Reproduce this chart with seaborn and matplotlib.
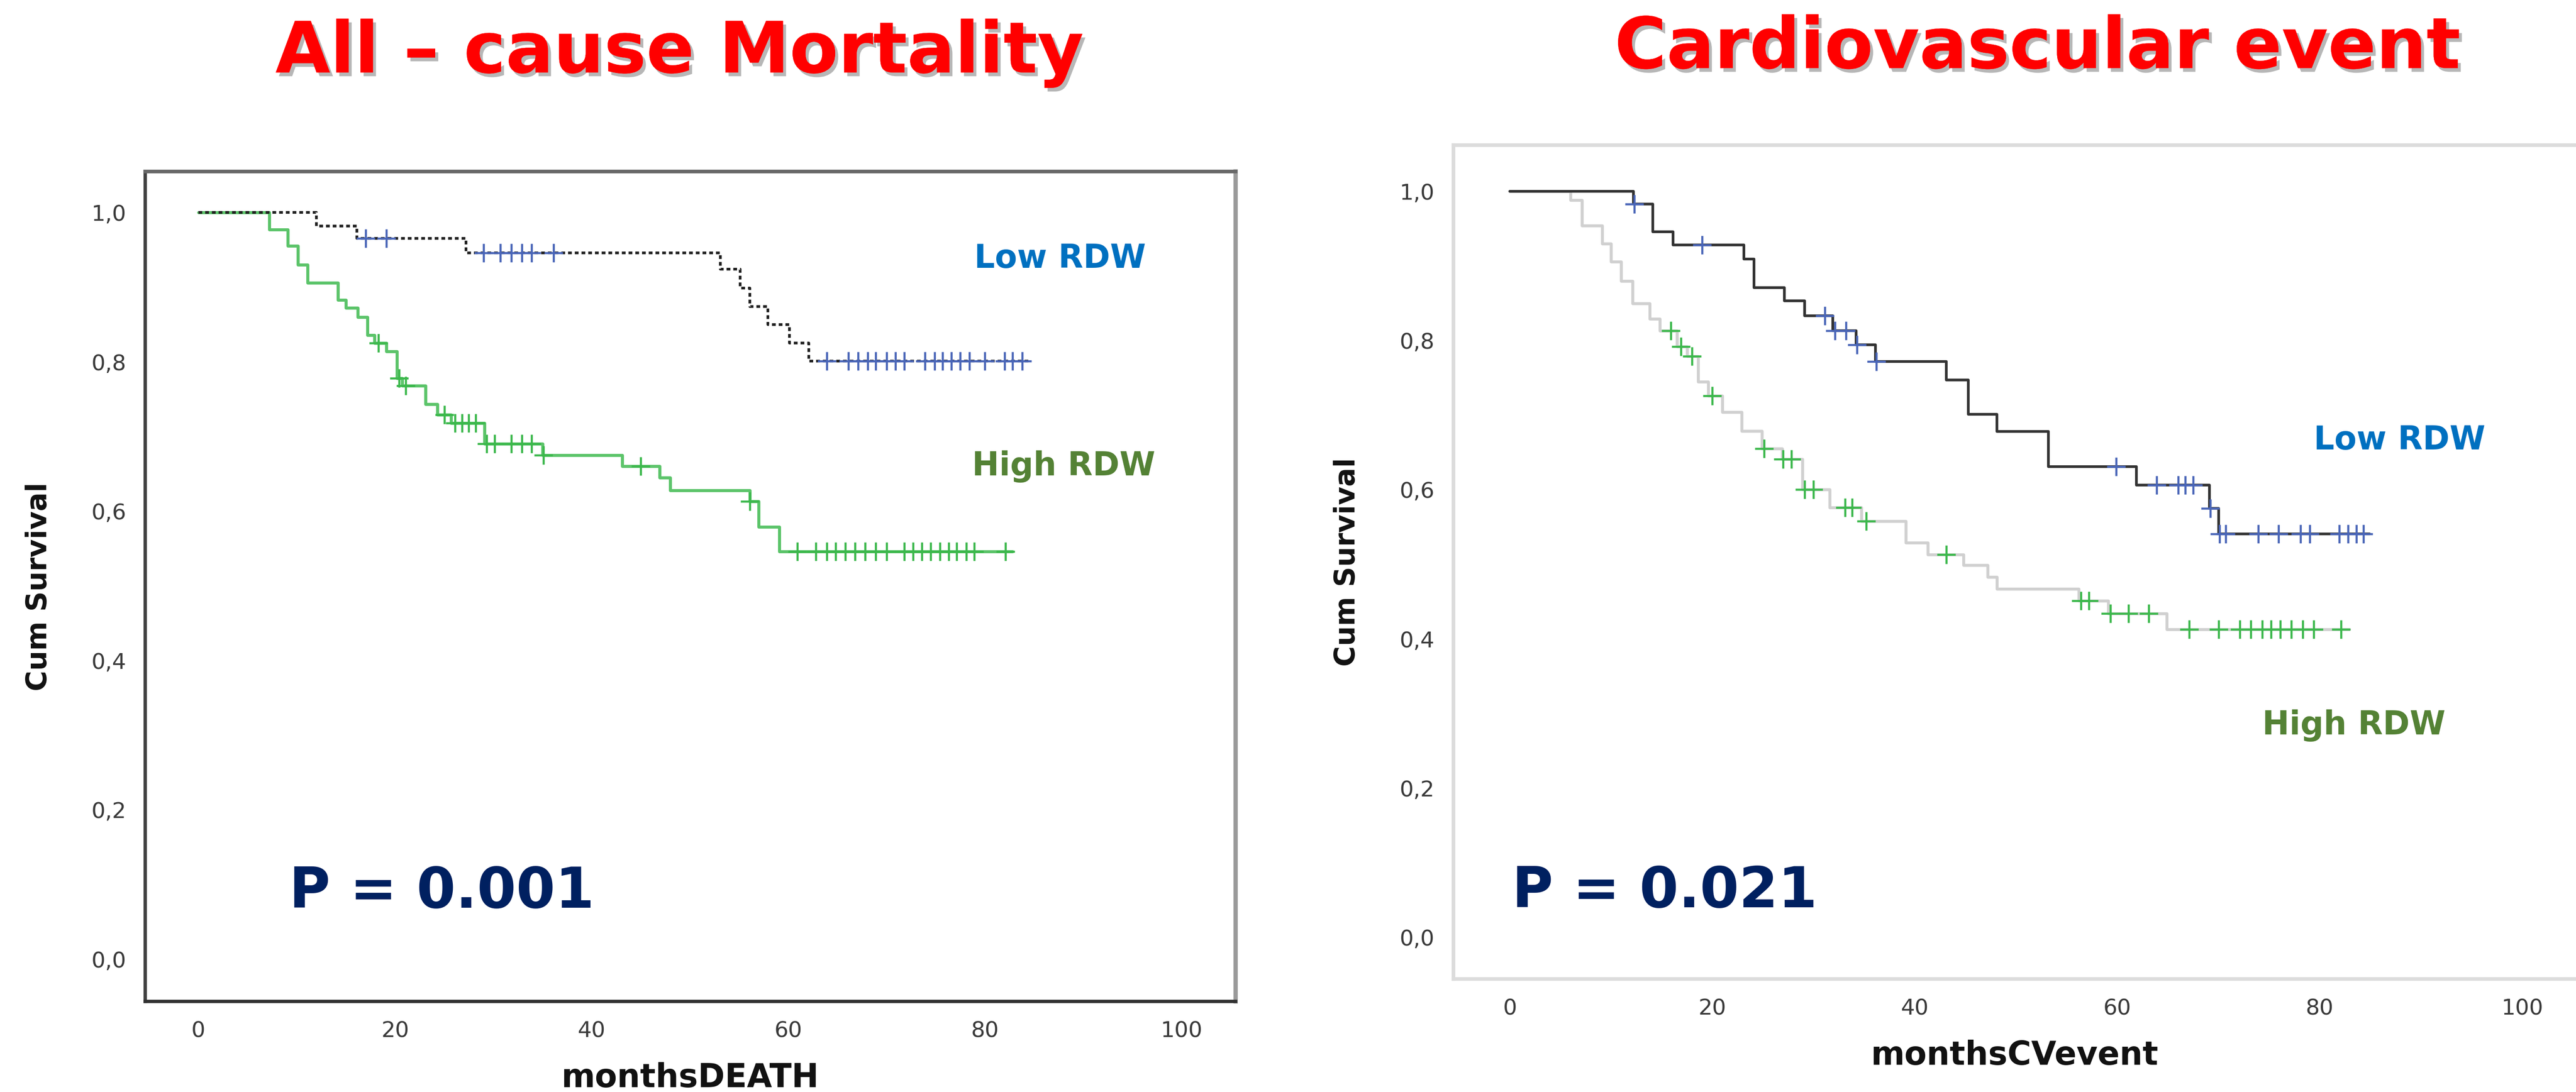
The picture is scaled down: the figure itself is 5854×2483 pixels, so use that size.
import numpy as np
import matplotlib
matplotlib.use("Agg")
import matplotlib.pyplot as plt
import matplotlib.patheffects as pe
import seaborn as sns

# ---------------- data ----------------
# All-cause mortality: Low RDW (event times / survival after event)
death_low_t = [0, 12.0, 16.1, 27.2, 53.1, 55.1, 56.1, 57.9, 60.1, 62.1]
death_low_s = [1.0, 0.982, 0.965, 0.946, 0.924, 0.899, 0.874, 0.850, 0.825, 0.801]
death_low_end = 84.6
death_low_cens = [17.0, 19.1, 29.0, 30.7, 31.8, 32.9, 33.9, 36.1,
                  63.9, 66.1, 67.1, 68.1, 68.9, 70.0, 70.9, 71.8, 73.9, 74.9,
                  75.7, 76.6, 77.5, 78.4, 80.0, 82.0, 82.8, 83.8]

# All-cause mortality: High RDW
death_high_t = [0, 7.2, 9.1, 10.1, 11.1, 14.2, 15.0, 16.2, 17.2, 17.9, 19.1, 20.2,
                20.7, 23.1, 24.3, 25.7, 29.1, 35.0, 43.1, 46.9, 48.0, 56.1, 57.0, 59.1]
death_high_s = [1.0, 0.977, 0.955, 0.930, 0.906, 0.883, 0.872, 0.860, 0.836, 0.825,
                0.814, 0.778, 0.768, 0.743, 0.729, 0.718, 0.690, 0.675, 0.660, 0.645,
                0.628, 0.613, 0.579, 0.546]
death_high_end = 82.8
death_high_cens = [18.3, 20.4, 21.1, 25.0, 26.1, 26.8, 27.5, 28.2, 29.3, 30.1, 31.8,
                   32.9, 33.9, 35.1, 45.0, 56.1, 60.9, 62.8, 63.9, 64.8, 65.8, 66.8,
                   67.8, 68.9, 70.0, 71.8, 72.7, 73.6, 74.5, 75.4, 76.3, 77.1, 78.1,
                   78.9, 82.1]

# Cardiovascular event: Low RDW
cv_low_t = [0, 12.2, 14.1, 16.1, 23.1, 24.1, 27.1, 29.1, 31.9, 34.2, 36.1, 43.1,
            45.3, 48.1, 53.2, 61.9, 69.1, 70.0]
cv_low_s = [1.0, 0.983, 0.946, 0.928, 0.909, 0.871, 0.853, 0.833, 0.813, 0.794,
            0.772, 0.747, 0.701, 0.678, 0.631, 0.606, 0.575, 0.541]
cv_low_end = 84.9
cv_low_cens = [12.3, 19.0, 31.1, 32.1, 33.2, 34.3, 36.2, 59.9, 63.9, 66.0, 66.7,
               67.5, 69.2, 70.1, 70.7, 73.9, 75.9, 78.1, 79.0, 81.9, 82.8, 83.6, 84.3]

# Cardiovascular event: High RDW
cv_high_t = [0, 6.0, 7.1, 9.1, 10.0, 11.0, 12.1, 13.8, 14.8, 16.5, 17.5, 18.6, 19.6,
             21.0, 22.9, 24.9, 26.9, 28.9, 31.6, 34.7, 39.1, 41.3, 44.8, 47.2, 48.1,
             56.2, 59.1, 64.9]
cv_high_s = [1.0, 0.988, 0.954, 0.930, 0.906, 0.880, 0.850, 0.829, 0.813, 0.792,
             0.779, 0.745, 0.726, 0.704, 0.679, 0.655, 0.641, 0.600, 0.576, 0.558,
             0.529, 0.513, 0.499, 0.483, 0.467, 0.451, 0.434, 0.413]
cv_high_end = 82.9
cv_high_cens = [15.9, 16.9, 18.0, 20.0, 25.1, 27.0, 27.8, 29.1, 30.0, 33.1, 33.8,
                35.2, 43.1, 56.4, 57.2, 59.3, 61.1, 63.1, 67.1, 70.0, 72.1, 73.2,
                74.3, 75.2, 76.1, 77.2, 78.3, 79.4, 82.1]

x_ticks = [0, 20, 40, 60, 80, 100]
y_ticks = [0.0, 0.2, 0.4, 0.6, 0.8, 1.0]
y_tick_labels = ["0,0", "0,2", "0,4", "0,6", "0,8", "1,0"]

titles = ["All \u2013 cause Mortality", "Cardiovascular event"]
x_labels = ["monthsDEATH", "monthsCVevent"]
p_texts = ["P = 0.001", "P = 0.021"]

# ---------------- style ----------------
sns.set_theme(style="white")
plt.rcParams["font.family"] = ["DejaVu Sans"]

W, H = 5854, 2483
fig = plt.figure(figsize=(W / 100, H / 100), dpi=100)
fig.patch.set_facecolor("white")

ax1 = fig.add_axes([330 / W, (H - 2277) / H, (2808 - 330) / W, (2277 - 390) / H])
ax2 = fig.add_axes([3303 / W, (H - 2226) / H, (5854 - 3303) / W, (2226 - 330) / H])

BLUE_MARK = "#4a66b8"
GREEN_LINE = "#5cc46a"
GREEN_MARK = "#3cb84c"


def step_curve(ax, t, s, end, color, lw, ls="-", z=2):
    xs = list(t) + [end]
    ys = list(s) + [s[-1]]
    sns.lineplot(x=xs, y=ys, ax=ax, color=color, linewidth=lw, linestyle=ls,
                 drawstyle="steps-post", errorbar=None, sort=False, zorder=z)


def censor_marks(ax, t, s, cens, color):
    idx = np.searchsorted(np.asarray(t), np.asarray(cens), side="right") - 1
    ys = np.asarray(s)[idx]
    sns.scatterplot(x=cens, y=ys, ax=ax, marker="+", s=900, linewidth=3.4,
                    color=color, zorder=4)


# Left panel
step_curve(ax1, death_high_t, death_high_s, death_high_end, GREEN_LINE, 5.0)
step_curve(ax1, death_low_t, death_low_s, death_low_end, "#202020", 4.4,
           ls=(0, (1.4, 1.1)), z=3)
censor_marks(ax1, death_low_t, death_low_s, death_low_cens, BLUE_MARK)
censor_marks(ax1, death_high_t, death_high_s, death_high_cens, GREEN_MARK)

# Right panel
step_curve(ax2, cv_high_t, cv_high_s, cv_high_end, "#d0d0d0", 4.8)
step_curve(ax2, cv_low_t, cv_low_s, cv_low_end, "#333333", 4.4, z=3)
censor_marks(ax2, cv_low_t, cv_low_s, cv_low_cens, BLUE_MARK)
censor_marks(ax2, cv_high_t, cv_high_s, cv_high_cens, GREEN_MARK)

ax1.set_xlim(-5.42, 105.5)
ax1.set_ylim(-0.0565, 1.0548)
ax2.set_xlim(-5.57, 105.3)
ax2.set_ylim(-0.056, 1.062)

for ax, xl in zip([ax1, ax2], x_labels):
    ax.set_xticks(x_ticks)
    ax.set_xticklabels([str(v) for v in x_ticks])
    ax.set_yticks(y_ticks)
    ax.set_yticklabels(y_tick_labels)
    ax.tick_params(axis="x", direction="out", length=23, width=2.4, pad=8,
                   labelsize=36, colors="#333333", labelcolor="#3a3a3a")
    ax.tick_params(axis="y", direction="out", length=27, width=3.0, pad=4,
                   labelsize=36, colors="#333333", labelcolor="#3a3a3a")
    ax.set_xlabel(xl, fontsize=53, fontweight="bold", color="#111111", labelpad=34)
    ax.set_ylabel("Cum Survival", fontsize=46, fontweight="bold", color="#111111",
                  labelpad=64)
    ax.grid(False)
    ax.set_facecolor("white")

# spines
ax1.spines["left"].set_color("#404040")
ax1.spines["left"].set_linewidth(5.5)
ax1.spines["bottom"].set_color("#303030")
ax1.spines["bottom"].set_linewidth(5.5)
ax1.spines["top"].set_color("#686868")
ax1.spines["top"].set_linewidth(6)
ax1.spines["right"].set_color("#9a9a9a")
ax1.spines["right"].set_linewidth(7)

for side in ["left", "bottom", "top"]:
    ax2.spines[side].set_color("#dcdcdc")
    ax2.spines[side].set_linewidth(6)
ax2.spines["right"].set_visible(False)

# group labels
lab_kw = dict(fontsize=53, fontweight="bold", va="baseline", ha="left")
ax1.text(78.9, 0.926, "Low RDW", color="#0070C0", **lab_kw)
ax1.text(78.7, 0.648, "High RDW", color="#548235", **lab_kw)
ax2.text(79.4, 0.654, "Low RDW", color="#0070C0", **lab_kw)
ax2.text(74.3, 0.272, "High RDW", color="#548235", **lab_kw)

# p-values
p_kw = dict(fontsize=92, fontweight="bold", color="#002060", va="baseline", ha="left")
ax1.text(9.2, 0.069, p_texts[0], **p_kw)
ax2.text(0.2, 0.040, p_texts[1], **p_kw)

# titles with shadow
shadow = [pe.withSimplePatchShadow(offset=(5, -6), shadow_rgbFace="#888888", alpha=0.6),
          pe.Normal()]
fig.text(1544 / W, 1 - 165 / H, titles[0], ha="center", va="baseline",
         fontsize=116, fontweight="bold", color="#ff0000", path_effects=shadow)
fig.text(4630 / W, 1 - 155 / H, titles[1], ha="center", va="baseline",
         fontsize=116, fontweight="bold", color="#ff0000", path_effects=shadow)

fig.savefig("out.png", dpi=100, facecolor="white")
